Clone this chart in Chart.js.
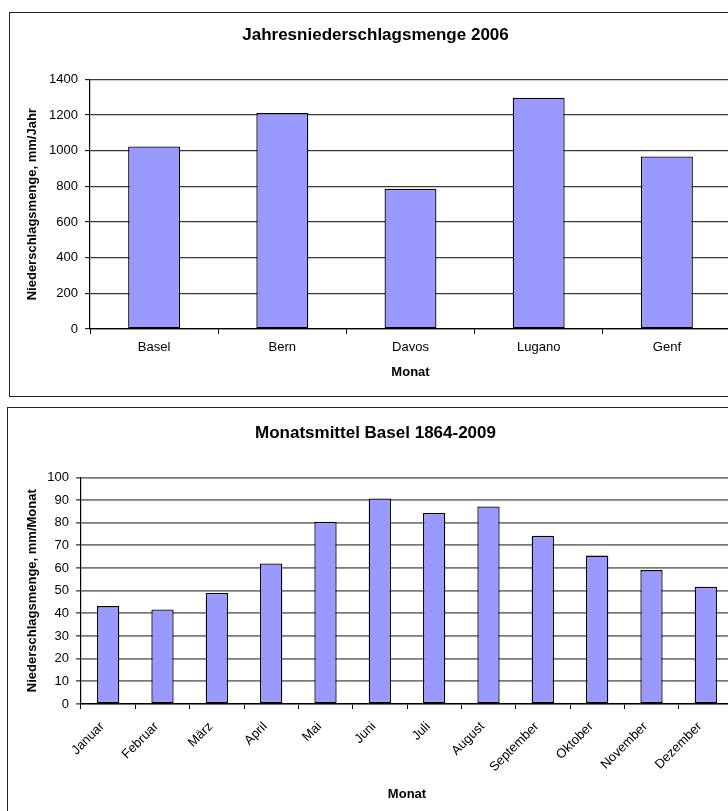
<!DOCTYPE html>
<html>
<head>
<meta charset="utf-8">
<title>Niederschlag</title>
<script src="https://cdn.jsdelivr.net/npm/chart.js@4.4.1/dist/chart.umd.min.js"></script>
<style>
  html, body { margin: 0; padding: 0; background: #fff; overflow: hidden; }
  body { width: 728px; height: 811px; position: relative; }
  .box { position: absolute; border: 1.5px solid #222; box-sizing: border-box; }
  #box1 { left: 9px; top: 12px; width: 740px; height: 385px; }
  #box2 { left: 7px; top: 407px; width: 740px; height: 420px; }
  canvas { position: absolute; }
  #jahr { left: 10px; top: 13px; }
  #monat { left: 8px; top: 408px; }
</style>
</head>
<body>
<div class="box" id="box1"></div>
<div class="box" id="box2"></div>
<canvas id="jahr" width="730" height="382"></canvas>
<canvas id="monat" width="730" height="403"></canvas>

<script>
// Jahresniederschlag 2006
const staedte = ['Basel', 'Bern', 'Davos', 'Lugano', 'Genf'];
const jahresMenge = [1024, 1212, 786, 1297, 968];
const jahrTicks = [0, 200, 400, 600, 800, 1000, 1200, 1400];

// Monatsmittel Basel 1864-2009
const monate = ['Januar', 'Februar', 'März', 'April', 'Mai', 'Juni', 'Juli',
  'August', 'September', 'Oktober', 'November', 'Dezember'];
const monatsMittel = [43.2, 41.7, 49.0, 62.0, 80.4, 90.7, 84.3, 87.2, 74.2, 65.5, 59.1, 51.7];
const monatTicks = [0, 10, 20, 30, 40, 50, 60, 70, 80, 90, 100];

const FONT = 'Arial, "Liberation Sans", sans-serif';
Chart.defaults.font.family = FONT;
Chart.defaults.color = '#000';

function baseOptions(cfg) {
  return {
    responsive: false,
    animation: false,
    layout: { padding: { left: 10, right: cfg.padRight, top: 0, bottom: 0 } },
    plugins: {
      legend: { display: false },
      tooltip: { enabled: false },
      title: {
        display: true,
        text: cfg.title,
        color: '#000',
        font: { size: 17, weight: 'bold' },
        padding: { top: cfg.titleTop, bottom: cfg.titleBottom }
      }
    },
    scales: {
      x: {
        grid: { drawOnChartArea: false, drawTicks: true, tickLength: 5, color: '#000', offset: true },
        border: { color: '#000', width: 1.2 },
        ticks: {
          font: { size: 13 },
          color: '#000',
          padding: cfg.xTickPad,
          labelOffset: cfg.labelShift,
          minRotation: cfg.rot,
          maxRotation: cfg.rot,
          autoSkip: false
        },
        title: {
          display: true,
          text: 'Monat',
          font: { size: 13, weight: 'bold' },
          padding: { top: 0, bottom: cfg.xTitleBottom }
        },
        afterFit: function (scale) { scale.height = cfg.xHeight; }
      },
      y: {
        min: 0,
        max: cfg.yMax,
        afterBuildTicks: function (scale) { scale.ticks = cfg.yTicks.map(v => ({ value: v })); },
        grid: { color: cfg.gridColor, lineWidth: cfg.gridWidth, tickLength: 5, tickColor: '#000', tickWidth: 1 },
        border: { color: '#000', width: 1.2 },
        ticks: { font: { size: 13 }, color: '#000', padding: 7, callback: v => String(v) },
        title: {
          display: true,
          text: cfg.yTitle,
          font: { size: 13, weight: 'bold' },
          padding: { top: cfg.yTitleTop, bottom: 0 }
        },
        afterFit: function (scale) { scale.width = cfg.yWidth; }
      }
    }
  };
}

new Chart(document.getElementById('jahr'), {
  type: 'bar',
  data: {
    labels: staedte,
    datasets: [{
      data: jahresMenge,
      backgroundColor: '#9999ff',
      borderColor: '#000',
      borderWidth: 1.3,
      borderSkipped: false,
      barPercentage: 0.405,
      categoryPercentage: 1
    }]
  },
  options: baseOptions({
    title: 'Jahresniederschlagsmenge 2006',
    padRight: 9,
    titleTop: 12,
    titleBottom: 34,
    xTickPad: 6,
    labelShift: 0,
    rot: 0,
    xTitleBottom: 15,
    xHeight: 66,
    yMax: 1400,
    yTicks: jahrTicks,
    gridColor: '#3a3a3a',
    gridWidth: 1.3,
    yTitle: 'Niederschlagsmenge, mm/Jahr',
    yTitleTop: 5,
    yWidth: 70
  })
});

new Chart(document.getElementById('monat'), {
  type: 'bar',
  data: {
    labels: monate,
    datasets: [{
      data: monatsMittel,
      backgroundColor: '#9999ff',
      borderColor: '#000',
      borderWidth: 1.3,
      borderSkipped: false,
      barPercentage: 0.41,
      categoryPercentage: 1
    }]
  },
  options: baseOptions({
    title: 'Monatsmittel Basel 1864-2009',
    padRight: 5,
    titleTop: 15,
    titleBottom: 34,
    xTickPad: 10,
    labelShift: -6,
    rot: 45,
    xTitleBottom: 9,
    xHeight: 107,
    yMax: 100,
    yTicks: monatTicks,
    gridColor: '#7a7a7a',
    gridWidth: 1.8,
    yTitle: 'Niederschlagsmenge, mm/Monat',
    yTitleTop: 7,
    yWidth: 63
  })
});
</script>
</body>
</html>
